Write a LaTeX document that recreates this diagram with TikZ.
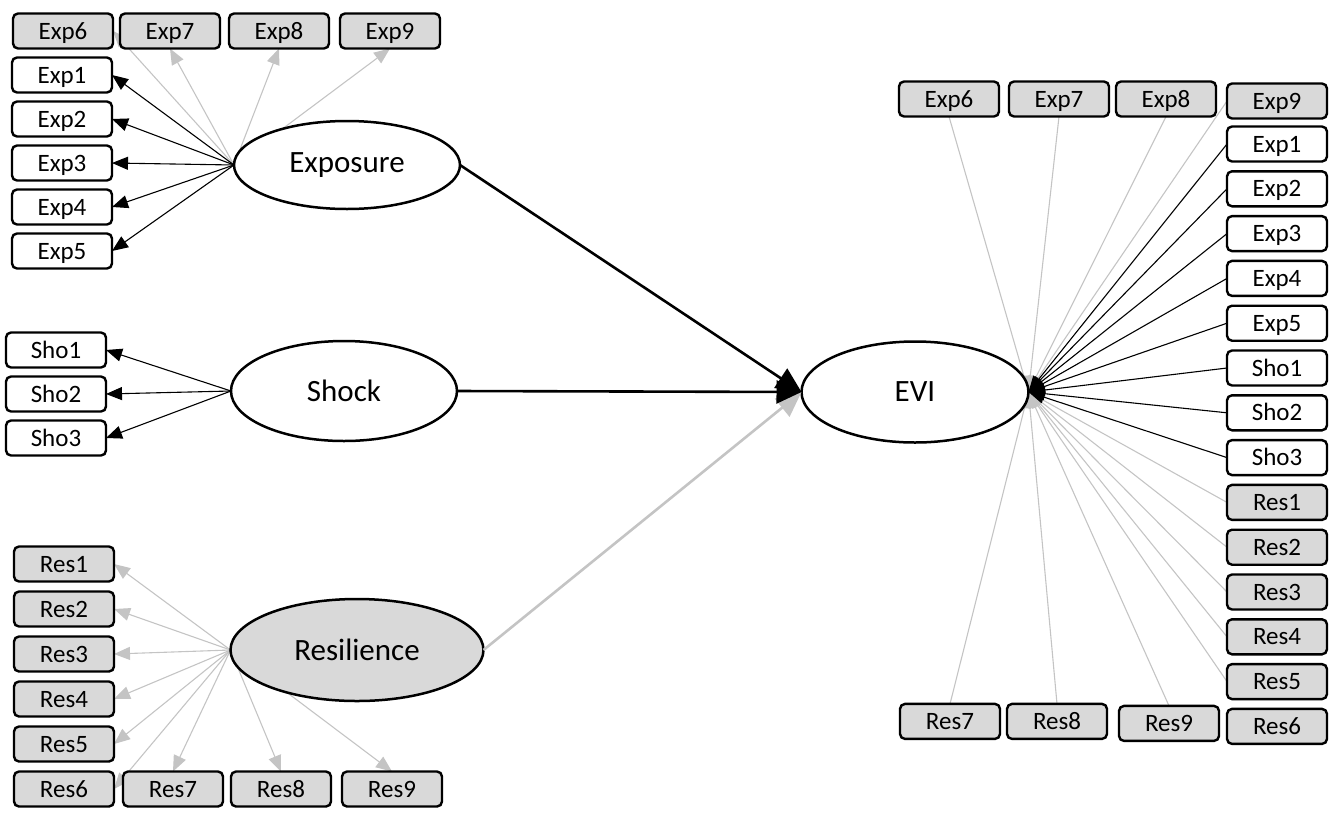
\documentclass[tikz,border=0pt]{standalone}
\usepackage{fontspec}
\setmainfont{Carlito}
\usetikzlibrary{arrows.meta,positioning,shapes.geometric,backgrounds}
\definecolor{boxgray}{RGB}{217,217,217}
\definecolor{linegray}{RGB}{196,196,196}
\tikzset{
    ind/.style={
           rectangle,
           rounded corners=5pt,
           draw=black, line width=2.4pt,
           minimum width=100pt,
           minimum height=35pt,
           inner sep=0pt, outer sep=0pt,
           text height=17pt, text depth=1pt,
           font=\fontsize{25}{27}\selectfont},
    indg/.style={ind, fill=boxgray},
    lat/.style={
           ellipse,
           draw=black, line width=2.5pt,
           fill=white,
           inner sep=0pt, outer sep=0pt,
           font=\fontsize{31}{33}\selectfont},
    % Define arrow styles
    load/.style={
           -{Triangle[length=16pt,width=13pt]},
           line width=1.1pt, black},
    loadg/.style={
           -{Triangle[length=16pt,width=13pt]},
           line width=1.1pt, linegray},
    paths/.style={
           -{Triangle[length=25pt,width=23pt]},
           line width=2.6pt, black},
    pathsg/.style={paths, linegray}
}
\begin{document}
\begin{tikzpicture}[x=1pt,y=1pt]
	\useasboundingbox (0,0) rectangle (1336,-812);
	% latent variables
	\node[lat, minimum width=226pt, minimum height=88pt] (exposure) at (347,-165) {Exposure};
	\node[lat, minimum width=226pt, minimum height=100pt] (shock) at (344,-391) {Shock};
	\node[lat, fill=boxgray, minimum width=253pt, minimum height=102pt] (resilience) at (357,-650) {Resilience};
	\node[lat, minimum width=227pt, minimum height=101pt] (evi) at (915,-392) {EVI};

	% left indicators
	\node[indg] (lexp6) at (63,-31) {Exp6};
	\node[indg, right=7pt of lexp6] (lexp7) {Exp7};
	\node[indg, right=9pt of lexp7] (lexp8) {Exp8};
	\node[indg, right=11pt of lexp8] (lexp9) {Exp9};
	\node[ind] (lexp1) at (62,-75) {Exp1};
	\node[ind, below=9pt of lexp1] (lexp2) {Exp2};
	\node[ind, below=9pt of lexp2] (lexp3) {Exp3};
	\node[ind, below=9pt of lexp3] (lexp4) {Exp4};
	\node[ind, below=9pt of lexp4] (lexp5) {Exp5};
	\node[ind] (lsho1) at (56,-350) {Sho1};
	\node[ind, below=9pt of lsho1] (lsho2) {Sho2};
	\node[ind, below=9pt of lsho2] (lsho3) {Sho3};
	\node[indg] (lres1) at (64,-564) {Res1};
	\node[indg, below=10pt of lres1] (lres2) {Res2};
	\node[indg, below=10pt of lres2] (lres3) {Res3};
	\node[indg, below=10pt of lres3] (lres4) {Res4};
	\node[indg, below=10pt of lres4] (lres5) {Res5};
	\node[indg, below=10pt of lres5] (lres6) {Res6};
	\node[indg, right=9pt of lres6] (lres7) {Res7};
	\node[indg, right=8pt of lres7] (lres8) {Res8};
	\node[indg, right=11pt of lres8] (lres9) {Res9};

	% right indicators
	\node[indg] (rexp9) at (1277,-101) {Exp9};
	\node[indg, left=11pt of rexp9, yshift=2pt] (rexp8) {Exp8};
	\node[indg, left=7pt of rexp8] (rexp7) {Exp7};
	\node[indg, left=10pt of rexp7] (rexp6) {Exp6};
	\node[ind, below=8pt of rexp9] (rexp1) {Exp1};
	\node[ind, below=9.8pt of rexp1] (rexp2) {Exp2};
	\node[ind, below=9.8pt of rexp2] (rexp3) {Exp3};
	\node[ind, below=9.8pt of rexp3] (rexp4) {Exp4};
	\node[ind, below=9.8pt of rexp4] (rexp5) {Exp5};
	\node[ind, below=9.8pt of rexp5] (rsho1) {Sho1};
	\node[ind, below=9.8pt of rsho1] (rsho2) {Sho2};
	\node[ind, below=9.8pt of rsho2] (rsho3) {Sho3};
	\node[indg, below=9.8pt of rsho3] (rres1) {Res1};
	\node[indg, below=9.8pt of rres1] (rres2) {Res2};
	\node[indg, below=9.8pt of rres2] (rres3) {Res3};
	\node[indg, below=9.8pt of rres3] (rres4) {Res4};
	\node[indg, below=9.8pt of rres4] (rres5) {Res5};
	\node[indg, below=9.8pt of rres5] (rres6) {Res6};
	\node[indg, left=8pt of rres6, yshift=3pt] (rres9) {Res9};
	\node[indg, left=12pt of rres9, yshift=2pt] (rres8) {Res8};
	\node[indg, left=7pt of rres8] (rres7) {Res7};

	% loadings, under the ellipses
	\begin{pgfonlayer}{background}
	\draw[loadg] (exposure.west) -- (lexp6.east);
	\foreach \i in {7,8,9}
		\draw[loadg] (exposure.west) -- (lexp\i.south);
	\foreach \i in {1,...,5}
		\draw[load] (exposure.west) -- (lexp\i.east);
	\foreach \i in {1,2,3}
		\draw[load] (shock.west) -- (lsho\i.east);
	\foreach \i in {1,...,6}
		\draw[loadg] (resilience.west) -- (lres\i.east);
	\foreach \i in {7,8,9}
		\draw[loadg] (resilience.west) -- (lres\i.north);

	\foreach \i in {6,7,8}
		\draw[loadg] (rexp\i.south) -- (evi.east);
	\draw[loadg] (rexp9.west) -- (evi.east);
	\foreach \i in {1,...,5}
		\draw[loadg] (rres\i.west) -- (evi.east);
	\foreach \i in {7,8,9}
		\draw[loadg] (rres\i.north) -- (evi.east);
	\foreach \i in {1,...,5}
		\draw[load] (rexp\i.west) -- (evi.east);
	\foreach \i in {1,2,3}
		\draw[load] (rsho\i.west) -- (evi.east);
	\end{pgfonlayer}

	% structural paths
	\draw[pathsg] (resilience.east) -- (evi.west);
	\draw[paths] (shock.east) -- (evi.west);
	\draw[paths] (exposure.east) -- (evi.west);
\end{tikzpicture}
\end{document}
